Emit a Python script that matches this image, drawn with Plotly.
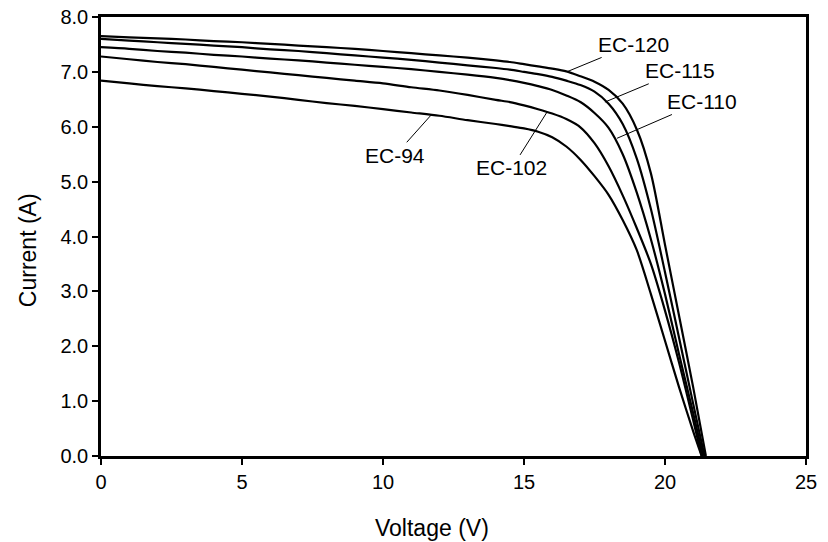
import plotly.graph_objects as go

# I-V data (Voltage V, Current A)
v_ec120 = [0, 1, 2, 3, 4, 5, 6, 7, 8, 9, 10, 11, 12, 13, 14, 14.5, 15, 15.5, 16, 16.5, 17, 17.5, 18, 18.5, 19, 19.5, 20, 20.5, 21, 21.45]
i_ec120 = [7.65, 7.63, 7.61, 7.59, 7.56, 7.54, 7.51, 7.48, 7.45, 7.42, 7.38, 7.34, 7.30, 7.26, 7.21, 7.18, 7.14, 7.10, 7.06, 7.01, 6.92, 6.82, 6.67, 6.42, 5.95, 5.15, 3.85, 2.55, 1.25, 0.0]

v_ec115 = [0, 1, 2, 3, 4, 5, 6, 7, 8, 9, 10, 11, 12, 13, 14, 14.5, 15, 15.5, 16, 16.5, 17, 17.5, 18, 18.5, 19, 19.5, 20, 20.5, 21, 21.4]
i_ec115 = [7.60, 7.57, 7.54, 7.51, 7.48, 7.45, 7.41, 7.38, 7.34, 7.30, 7.26, 7.22, 7.17, 7.12, 7.07, 7.04, 7.00, 6.96, 6.91, 6.84, 6.76, 6.64, 6.42, 6.05, 5.42, 4.50, 3.35, 2.15, 0.95, 0.0]

v_ec110 = [0, 1, 2, 3, 4, 5, 6, 7, 8, 9, 10, 11, 12, 13, 14, 14.5, 15, 15.5, 16, 16.5, 17, 17.5, 18, 18.5, 19, 19.5, 20, 20.5, 21, 21.35]
i_ec110 = [7.45, 7.42, 7.38, 7.35, 7.31, 7.28, 7.24, 7.21, 7.17, 7.13, 7.09, 7.05, 7.00, 6.95, 6.89, 6.85, 6.80, 6.74, 6.67, 6.57, 6.45, 6.25, 5.98, 5.50, 4.80, 3.95, 2.95, 1.85, 0.78, 0.0]

v_ec102 = [0, 1, 2, 3, 4, 5, 6, 7, 8, 9, 10, 11, 12, 13, 14, 14.5, 15, 15.5, 16, 16.5, 17, 17.5, 18, 18.5, 19, 19.5, 20, 20.5, 21, 21.3]
i_ec102 = [7.28, 7.23, 7.18, 7.14, 7.09, 7.04, 6.99, 6.94, 6.89, 6.84, 6.79, 6.72, 6.66, 6.58, 6.49, 6.45, 6.39, 6.32, 6.24, 6.14, 5.99, 5.70, 5.28, 4.75, 4.15, 3.50, 2.65, 1.70, 0.65, 0.0]

v_ec94 = [0, 1, 2, 3, 4, 5, 6, 7, 8, 9, 10, 11, 12, 13, 14, 14.5, 15, 15.5, 16, 16.5, 17, 17.5, 18, 18.5, 19, 19.5, 20, 20.5, 21, 21.3]
i_ec94 = [6.84, 6.79, 6.74, 6.70, 6.65, 6.60, 6.55, 6.49, 6.43, 6.38, 6.32, 6.26, 6.20, 6.12, 6.05, 6.01, 5.97, 5.91, 5.81, 5.64, 5.40, 5.10, 4.76, 4.30, 3.75, 2.95, 2.10, 1.25, 0.45, 0.0]

series = [
    ("EC-120", v_ec120, i_ec120),
    ("EC-115", v_ec115, i_ec115),
    ("EC-110", v_ec110, i_ec110),
    ("EC-102", v_ec102, i_ec102),
    ("EC-94", v_ec94, i_ec94),
]

# label text position and point on curve (data coords)
label_names = ["EC-120", "EC-115", "EC-110", "EC-102", "EC-94"]
label_text_v = [18.87, 20.53, 21.31, 14.57, 10.43]
label_text_i = [7.50, 7.02, 6.46, 5.25, 5.48]
label_pt_v = [16.56, 17.87, 18.30, 15.82, 11.70]
label_pt_i = [7.01, 6.45, 5.79, 6.27, 6.21]

x_title = "Voltage (V)"
y_title = "Current (A)"

FONT = "Arial, Liberation Sans, sans-serif"
FS = 20

fig = go.Figure()
for name, v, i in series:
    fig.add_trace(go.Scatter(x=v, y=i, mode="lines", name=name,
                             line=dict(color="black", width=2.2, shape="spline", smoothing=0.8),
                             showlegend=False))

for n, tx, ty, px, py in zip(label_names, label_text_v, label_text_i, label_pt_v, label_pt_i):
    fig.add_annotation(x=px, y=py, ax=tx, ay=ty, xref="x", yref="y", axref="x", ayref="y",
                       text=n, showarrow=True, arrowhead=0, arrowwidth=1, arrowcolor="black",
                       standoff=0, font=dict(family=FONT, size=21, color="black"))

# axis titles (placed like the reference, slightly off-centre)
fig.add_annotation(text=x_title, xref="paper", yref="paper", x=0.4695, y=-0.164,
                   xanchor="center", yanchor="middle", showarrow=False,
                   font=dict(family=FONT, size=23, color="black"))
fig.add_annotation(text=y_title, xref="paper", yref="paper", x=-0.1035, y=0.469,
                   xanchor="center", yanchor="middle", showarrow=False, textangle=-90,
                   font=dict(family=FONT, size=23, color="black"))

fig.update_layout(
    width=828, height=542,
    margin=dict(l=101, r=22, t=17, b=86, autoexpand=False),
    paper_bgcolor="white", plot_bgcolor="white",
    font=dict(family=FONT, size=FS, color="black"),
)
fig.update_xaxes(range=[0, 25], tickvals=[0, 5, 10, 15, 20, 25], showgrid=False, zeroline=False,
                 showline=True, mirror=True, linecolor="black", linewidth=2.5,
                 ticks="outside", ticklen=6, tickwidth=2, tickcolor="black", automargin=False,
                 ticklabeloverflow="allow")
fig.update_yaxes(range=[0, 8], tickvals=[0, 1, 2, 3, 4, 5, 6, 7, 8], tickformat=".1f",
                 showgrid=False, zeroline=False,
                 showline=True, mirror=True, linecolor="black", linewidth=2.5,
                 ticks="outside", ticklen=6, tickwidth=2, tickcolor="black", automargin=False,
                 ticklabeloverflow="allow")

# remove the default 8px page margin so the figure fills the 828x542 window exactly
fig.write_html("out.html", config={"displayModeBar": False},
               post_script="document.body.style.margin='0px';")
